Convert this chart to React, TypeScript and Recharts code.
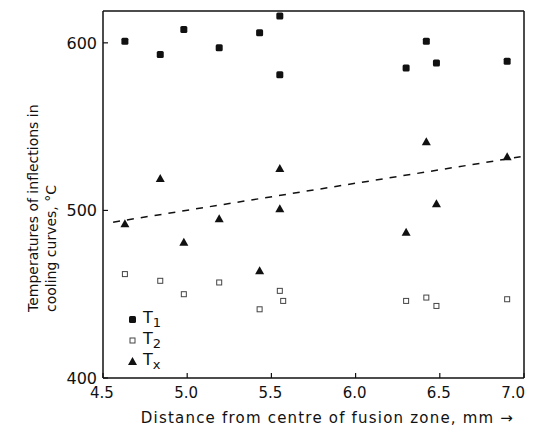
import { ScatterChart, Scatter, XAxis, YAxis } from 'recharts'

// distances (mm) and temperatures (°C)
const t1Dist = [4.63, 4.84, 4.98, 5.19, 5.43, 5.55, 5.55, 6.3, 6.42, 6.48, 6.9]
const t1Temp = [601, 593, 608, 597, 606, 616, 581, 585, 601, 588, 589]

const t2Dist = [4.63, 4.84, 4.98, 5.19, 5.43, 5.55, 5.57, 6.3, 6.42, 6.48, 6.9]
const t2Temp = [462, 458, 450, 457, 441, 452, 446, 446, 448, 443, 447]

const txDist = [4.63, 4.84, 4.98, 5.19, 5.43, 5.55, 5.55, 6.3, 6.42, 6.48, 6.9]
const txTemp = [492, 519, 481, 495, 464, 525, 501, 487, 541, 504, 532]

const fitDist = [4.56, 6.98]
const fitTemp = [493, 532]

const xTicks = [4.5, 5.0, 5.5, 6.0, 6.5, 7.0]
const yTicks = [400, 500, 600]

const toPoints = (xs: number[], ys: number[]) => xs.map((x, i) => ({ x, y: ys[i] }))

const INK = '#111'
const FONT = '"DejaVu Sans", sans-serif'

const SquareFilled = (p: any) => (
  <rect x={p.cx - 3.5} y={p.cy - 3.5} width={7} height={7} rx={1.5} fill={INK} />
)
const SquareOpen = (p: any) => (
  <rect x={p.cx - 2.5} y={p.cy - 2.5} width={5} height={5} fill="#fff" stroke="#444" strokeWidth={1} />
)
const Triangle = (p: any) => (
  <path d={`M${p.cx},${p.cy - 4.5} L${p.cx + 4.5},${p.cy + 3.5} L${p.cx - 4.5},${p.cy + 3.5} Z`} fill={INK} />
)

const BottomTick = (p: any) => {
  const last = p.payload.value === xTicks[xTicks.length - 1]
  return (
    <g>
      <line x1={p.x} y1={p.y} x2={p.x} y2={p.y - 5} stroke={INK} strokeWidth={1.2} />
      <text
        x={last ? p.x + 1 : p.x - 1}
        y={p.y + 20}
        textAnchor={last ? 'end' : 'middle'}
        fontSize={15}
        fill={INK}
        fontFamily={FONT}
      >
        {p.payload.value.toFixed(1)}
      </text>
    </g>
  )
}
const TopTick = (p: any) => (
  <line x1={p.x} y1={p.y} x2={p.x} y2={p.y + 5} stroke={INK} strokeWidth={1.2} />
)
const LeftTick = (p: any) => (
  <g>
    <line x1={p.x} y1={p.y} x2={p.x + 5} y2={p.y} stroke={INK} strokeWidth={1.2} />
    <text x={p.x - 6} y={p.y + 6} textAnchor="end" fontSize={16} fill={INK} fontFamily={FONT}>
      {p.payload.value}
    </text>
  </g>
)
const RightTick = (p: any) => (
  <line x1={p.x} y1={p.y} x2={p.x - 5} y2={p.y} stroke={INK} strokeWidth={1.2} />
)

const YLabel = () => (
  <g fontFamily={FONT} fontSize={14} fill={INK}>
    <text transform="translate(38,312) rotate(-90)" textAnchor="start">
      Temperatures of inflections in
    </text>
    <text transform="translate(56,312) rotate(-90)" textAnchor="start">
      cooling curves, °C
    </text>
  </g>
)

const LegendBox = () => {
  const rows = [
    { sub: '1', icon: <rect x={1} y={2} width={7} height={7} rx={1.5} fill={INK} /> },
    { sub: '2', icon: <rect x={2} y={3} width={5} height={5} fill="#fff" stroke="#444" /> },
    { sub: 'x', icon: <path d="M4.5,1 L9,9 L0,9 Z" fill={INK} /> },
  ]
  return (
    <div style={{ position: 'absolute', left: 128, top: 309, fontFamily: FONT, color: INK, lineHeight: 1 }}>
      {rows.map((r) => (
        <div key={r.sub} style={{ display: 'flex', alignItems: 'center', height: 21 }}>
          <svg width={10} height={11} style={{ marginRight: 5 }}>
            {r.icon}
          </svg>
          <span style={{ fontSize: 16 }}>
            T<sub style={{ fontSize: 13 }}>{r.sub}</sub>
          </span>
        </div>
      ))}
    </div>
  )
}

export default function App() {
  return (
    <div style={{ position: 'relative', width: 534, height: 439, background: '#fff' }}>
      <style>{'body{margin:0}'}</style>
      <ScatterChart width={534} height={439} margin={{ top: 10, right: 9, bottom: 31, left: 40 }}>
        <XAxis
          type="number"
          dataKey="x"
          xAxisId="b"
          domain={[4.5, 7.0]}
          ticks={xTicks}
          tickSize={0}
          tickMargin={0}
          tick={BottomTick}
          height={30}
          stroke={INK}
          strokeWidth={1.5}
          allowDataOverflow
          label={{
            value: 'Distance from centre of fusion zone, mm  →',
            position: 'insideBottom',
            offset: -15,
            fill: INK,
            fontSize: 15,
            fontFamily: FONT,
            letterSpacing: 1.2,
            dx: 14,
          }}
        />
        <XAxis
          type="number"
          dataKey="x"
          xAxisId="t"
          orientation="top"
          domain={[4.5, 7.0]}
          ticks={xTicks}
          tickSize={0}
          tickMargin={0}
          tick={TopTick}
          height={1}
          stroke={INK}
          strokeWidth={1.5}
        />
        <YAxis
          type="number"
          dataKey="y"
          yAxisId="l"
          domain={[400, 619]}
          ticks={yTicks}
          tickSize={0}
          tickMargin={0}
          tick={LeftTick}
          width={63}
          stroke={INK}
          strokeWidth={1.5}
          allowDataOverflow
          label={<YLabel />}
        />
        <YAxis
          type="number"
          dataKey="y"
          yAxisId="r"
          orientation="right"
          domain={[400, 619]}
          ticks={yTicks}
          tickSize={0}
          tickMargin={0}
          tick={RightTick}
          width={1}
          stroke={INK}
          strokeWidth={1.5}
        />
        <Scatter
          name="fit"
          xAxisId="b"
          yAxisId="l"
          data={toPoints(fitDist, fitTemp)}
          line={{ stroke: INK, strokeWidth: 1.5, strokeDasharray: '7 7' }}
          shape={() => <g />}
          legendType="none"
          isAnimationActive={false}
        />
        <Scatter name="T1" xAxisId="b" yAxisId="l" data={toPoints(t1Dist, t1Temp)} shape={SquareFilled} isAnimationActive={false} />
        <Scatter name="T2" xAxisId="b" yAxisId="l" data={toPoints(t2Dist, t2Temp)} shape={SquareOpen} isAnimationActive={false} />
        <Scatter name="Tx" xAxisId="b" yAxisId="l" data={toPoints(txDist, txTemp)} shape={Triangle} isAnimationActive={false} />
      </ScatterChart>
      <LegendBox />
    </div>
  )
}
